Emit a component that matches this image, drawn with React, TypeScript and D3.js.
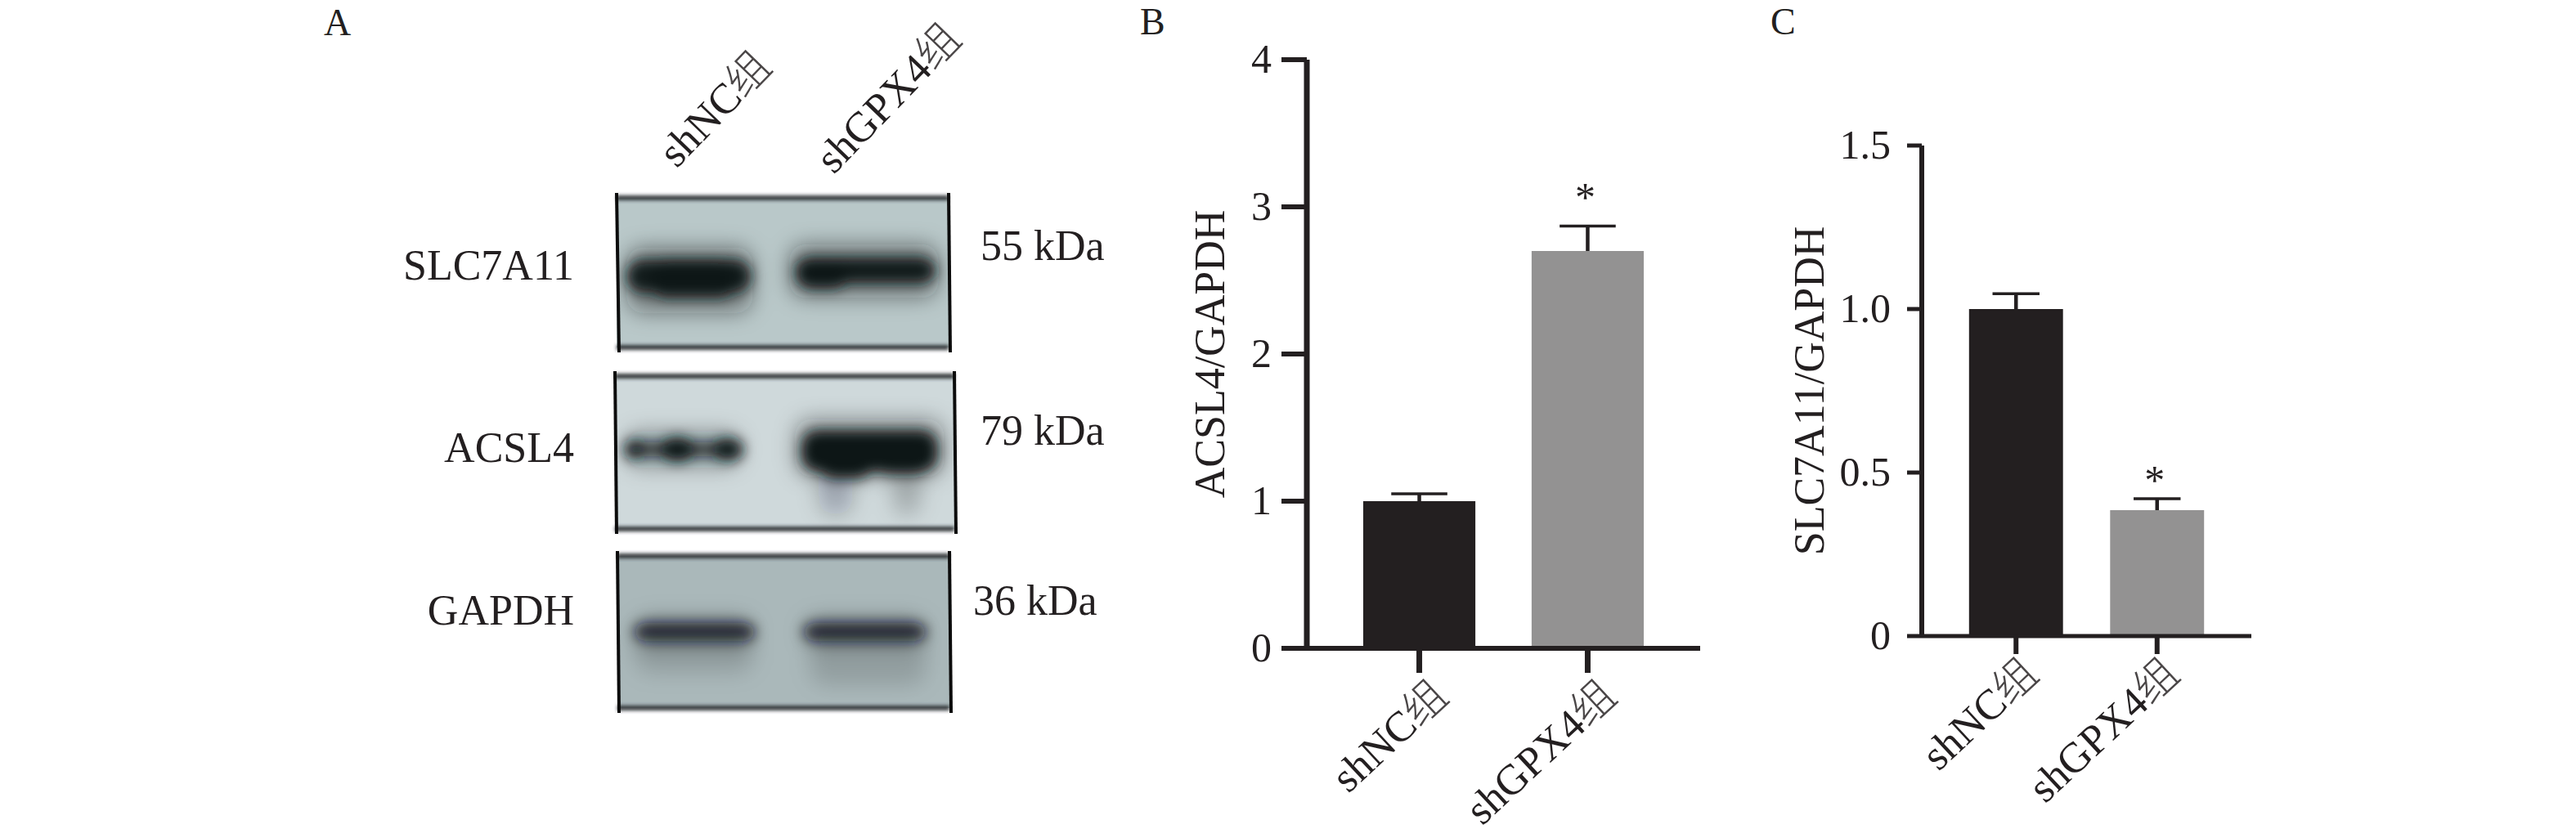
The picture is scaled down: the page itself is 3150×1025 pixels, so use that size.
import * as d3 from "d3";
import { useEffect, useRef } from "react";

const groups = ["shNC组", "shGPX4组"];

// panel B
const acslTicks = [0, 1, 2, 3, 4];
const acslMeans = [1.0, 2.7];
const acslErrors = [0.05, 0.17];
const acslStars = ["", "*"];

// panel C
const slcTicks = [0, 0.5, 1.0, 1.5];
const slcMeans = [1.0, 0.385];
const slcErrors = [0.047, 0.035];
const slcStars = ["", "*"];

// panel A, the bands are [from, to] across the gel, centre and thickness down the gel, density
const slcBands = [
  [0.03, 0.405, 0.525, 0.22, 0.95],
  [0.1, 0.36, 0.54, 0.26, 0.9],
  [0.54, 0.96, 0.485, 0.17, 0.97],
  [0.54, 0.7, 0.51, 0.2, 0.9],
];
const slcSmears = [
  [0.03, 0.41, 0.55, 0.44, 0.42],
  [0.52, 0.97, 0.49, 0.36, 0.42],
];
const acslBands = [
  [0.027, 0.087, 0.48, 0.13, 0.85],
  [0.133, 0.234, 0.48, 0.16, 0.98],
  [0.287, 0.378, 0.48, 0.15, 0.95],
  [0.03, 0.37, 0.48, 0.09, 0.7],
  [0.55, 0.95, 0.49, 0.27, 1],
  [0.6, 0.76, 0.57, 0.2, 1],
  [0.76, 0.93, 0.54, 0.2, 1],
];
const acslSmears = [
  [0.03, 0.37, 0.48, 0.24, 0.32],
  [0.53, 0.97, 0.47, 0.38, 0.35],
  [0.6, 0.7, 0.76, 0.3, 0.24],
  [0.82, 0.9, 0.76, 0.3, 0.22],
];
const gapdhBands = [
  [0.05, 0.415, 0.5, 0.12, 0.8],
  [0.56, 0.93, 0.5, 0.12, 0.8],
];
const gapdhSmears = [
  [0.05, 0.41, 0.63, 0.28, 0.14],
  [0.58, 0.93, 0.67, 0.36, 0.14],
  [0.05, 0.41, 0.5, 0.2, 0.25],
  [0.56, 0.93, 0.5, 0.2, 0.25],
];

const INK = "#231f20";
const SERIF = "'Liberation Serif', 'Noto Sans CJK SC', serif";

type Row = number[];

interface BlotConfig {
  name: string;
  kda: string;
  bg: string;
  left: number;
  right: number;
  top: number;
  bottom: number;
  nameY: number;
  kdaX: number;
  kdaY: number;
  bands: Row[];
  smears: Row[];
}

const blots: BlotConfig[] = [
  { name: "SLC7A11", kda: "55 kDa", bg: "#b9c8c9", left: 754, right: 1160, top: 242, bottom: 425, nameY: 342, kdaX: 1199, kdaY: 318, bands: slcBands, smears: slcSmears },
  { name: "ACSL4", kda: "79 kDa", bg: "#cfd9db", left: 752, right: 1167, top: 460, bottom: 647, nameY: 565, kdaX: 1199, kdaY: 544, bands: acslBands, smears: acslSmears },
  { name: "GAPDH", kda: "36 kDa", bg: "#aab8ba", left: 755, right: 1161, top: 680, bottom: 866, nameY: 764, kdaX: 1190, kdaY: 752, bands: gapdhBands, smears: gapdhSmears },
];

function drawBlot(root: any, cfg: BlotConfig, idx: number) {
  const x = d3.scaleLinear().domain([0, 1]).range([cfg.left, cfg.right]);
  const y = d3.scaleLinear().domain([0, 1]).range([cfg.top, cfg.bottom]);
  const g = root.append("g");

  root
    .select("defs")
    .append("clipPath")
    .attr("id", `gel${idx}`)
    .append("rect")
    .attr("x", cfg.left)
    .attr("y", cfg.top - 6)
    .attr("width", cfg.right - cfg.left)
    .attr("height", cfg.bottom - cfg.top + 12);

  g.append("rect")
    .attr("x", cfg.left)
    .attr("y", cfg.top)
    .attr("width", cfg.right - cfg.left)
    .attr("height", cfg.bottom - cfg.top)
    .attr("fill", cfg.bg);

  const inner = g.append("g").attr("clip-path", `url(#gel${idx})`);
  const drawRows = (rows: Row[], filter: string) => {
    inner
      .append("g")
      .attr("filter", filter)
      .selectAll("rect")
      .data(rows)
      .join("rect")
      .attr("x", (d: Row) => x(d[0]))
      .attr("width", (d: Row) => x(d[1]) - x(d[0]))
      .attr("y", (d: Row) => y(d[2] - d[3] / 2))
      .attr("height", (d: Row) => y(d[3]) - y(0))
      .attr("rx", 20)
      .attr("fill", "#101418")
      .attr("fill-opacity", (d: Row) => d[4]);
  };
  drawRows(cfg.smears, "url(#blurWide)");
  drawRows(cfg.bands, "url(#blurBand)");

  // top and bottom strips of the film edge
  g.append("g")
    .attr("filter", "url(#blurEdge)")
    .selectAll("line")
    .data([cfg.top, cfg.bottom])
    .join("line")
    .attr("x1", cfg.left)
    .attr("x2", cfg.right)
    .attr("y1", (d: number) => d)
    .attr("y2", (d: number) => d)
    .attr("stroke", "#33383b")
    .attr("stroke-width", 6);

  g.selectAll("line.side")
    .data([cfg.left, cfg.right])
    .join("line")
    .attr("class", "side")
    .attr("x1", (d: number) => d)
    .attr("x2", (d: number, i: number) => d + (i === 0 && idx === 0 ? 3 : 2))
    .attr("y1", cfg.top - 6)
    .attr("y2", cfg.bottom + 6)
    .attr("stroke", "#0c0c0c")
    .attr("stroke-width", 4);

  root
    .append("text")
    .attr("x", 702)
    .attr("y", cfg.nameY)
    .attr("text-anchor", "end")
    .attr("font-size", 52)
    .attr("fill", INK)
    .text(cfg.name);
  root
    .append("text")
    .attr("x", cfg.kdaX)
    .attr("y", cfg.kdaY)
    .attr("font-size", 52)
    .attr("fill", INK)
    .text(cfg.kda);
}

interface BarConfig {
  title: string;
  titleX: number;
  axisX: number;
  endX: number;
  topY: number;
  zeroY: number;
  maxValue: number;
  ticks: number[];
  tickFormat: (v: number) => string;
  tickSize: number;
  tickPadding: number;
  xTickSize: number;
  labelDx: number;
  labelDy: number;
  starGap: number;
  lineWidth: number;
  means: number[];
  errors: number[];
  stars: string[];
}

function labelText(sel: any, label: string) {
  // the 组 sits in the CJK font, everything else stays serif
  const latin = label.slice(0, -1);
  sel.text(null);
  sel.append("tspan").text(latin);
  sel
    .append("tspan")
    .attr("font-family", "'Noto Sans CJK SC'")
    .attr("font-weight", 300)
    .attr("fill", "#4a4647")
    .text(label.slice(-1));
}

function drawBars(root: any, cfg: BarConfig) {
  const x = d3
    .scaleBand<string>()
    .domain(groups)
    .range([cfg.axisX, cfg.endX])
    .paddingInner(0.334)
    .paddingOuter(0.335);
  const y = d3
    .scaleLinear()
    .domain([0, cfg.maxValue])
    .range([cfg.zeroY, cfg.topY]);

  const g = root.append("g");

  g.selectAll("rect.bar")
    .data(groups)
    .join("rect")
    .attr("class", "bar")
    .attr("x", (d: string) => x(d))
    .attr("width", x.bandwidth())
    .attr("y", (_: string, i: number) => y(cfg.means[i]))
    .attr("height", (_: string, i: number) => y(0) - y(cfg.means[i]))
    .attr("fill", (_: string, i: number) => (i === 0 ? INK : "#939292"));

  const center = (d: string) => (x(d) as number) + x.bandwidth() / 2;
  const err = g.selectAll("g.err").data(groups).join("g").attr("class", "err");
  err
    .append("line")
    .attr("x1", center)
    .attr("x2", center)
    .attr("y1", (_: string, i: number) => y(cfg.means[i]))
    .attr("y2", (_: string, i: number) => y(cfg.means[i] + cfg.errors[i]))
    .attr("stroke", INK)
    .attr("stroke-width", 4.5);
  err
    .append("line")
    .attr("x1", (d: string) => center(d) - x.bandwidth() / 4)
    .attr("x2", (d: string) => center(d) + x.bandwidth() / 4)
    .attr("y1", (_: string, i: number) => y(cfg.means[i] + cfg.errors[i]))
    .attr("y2", (_: string, i: number) => y(cfg.means[i] + cfg.errors[i]))
    .attr("stroke", INK)
    .attr("stroke-width", 3.5);

  g.selectAll("text.star")
    .data(groups)
    .join("text")
    .attr("class", "star")
    .attr("x", (d: string) => center(d) - 3)
    .attr("y", (_: string, i: number) => y(cfg.means[i] + cfg.errors[i]) - cfg.starGap)
    .attr("text-anchor", "middle")
    .attr("font-size", 50)
    .attr("fill", INK)
    .text((_: string, i: number) => cfg.stars[i]);

  const yAxis = g
    .append("g")
    .attr("transform", `translate(${cfg.axisX},0)`)
    .call(
      d3
        .axisLeft(y)
        .tickValues(cfg.ticks)
        .tickFormat(cfg.tickFormat as any)
        .tickSize(cfg.tickSize)
        .tickSizeOuter(0)
        .tickPadding(cfg.tickPadding)
        .offset(0)
    );
  yAxis.select(".domain").attr("stroke", INK).attr("stroke-width", cfg.lineWidth);
  yAxis.selectAll(".tick line").attr("stroke", INK).attr("stroke-width", cfg.lineWidth - 1);
  yAxis
    .selectAll(".tick text")
    .attr("font-family", SERIF)
    .attr("font-size", 50)
    .attr("fill", INK);

  const xAxis = g
    .append("g")
    .attr("transform", `translate(0,${cfg.zeroY})`)
    .call(
      d3
        .axisBottom(x)
        .tickSize(cfg.xTickSize)
        .tickSizeOuter(0)
        .offset(0)
    );
  xAxis.select(".domain").attr("stroke", INK).attr("stroke-width", cfg.lineWidth - 1);
  xAxis.selectAll(".tick line").attr("stroke", INK).attr("stroke-width", cfg.lineWidth);
  xAxis
    .selectAll(".tick text")
    .attr("font-family", SERIF)
    .attr("font-size", 52)
    .attr("fill", INK)
    .attr("x", 0)
    .attr("y", 0)
    .attr("dy", 0)
    .attr("text-anchor", "end")
    .attr("transform", `translate(${cfg.labelDx},${cfg.xTickSize + cfg.labelDy}) rotate(-43)`)
    .each(function (this: any, d: any) {
      labelText(d3.select(this), d);
    });

  g.append("text")
    .attr("transform", `translate(${cfg.titleX},${(y(0) + y(cfg.maxValue)) / 2}) rotate(-90)`)
    .attr("text-anchor", "middle")
    .attr("font-size", 52)
    .attr("fill", INK)
    .text(cfg.title);
}

export default function App() {
  const svgRef = useRef<SVGSVGElement | null>(null);

  useEffect(() => {
    const svg = d3.select(svgRef.current);
    svg.selectAll("*").remove();
    svg.attr("font-family", SERIF);
    const defs = svg.append("defs");
    [
      ["blurBand", 8],
      ["blurWide", 13],
      ["blurEdge", 2],
    ].forEach(([id, sd]) => {
      defs
        .append("filter")
        .attr("id", id as string)
        .attr("x", "-30%")
        .attr("y", "-100%")
        .attr("width", "160%")
        .attr("height", "300%")
        .append("feGaussianBlur")
        .attr("stdDeviation", sd as number);
    });

    // panel letters
    svg
      .selectAll("text.letter")
      .data([
        ["A", 396, 43],
        ["B", 1394, 42],
        ["C", 2165, 42],
      ])
      .join("text")
      .attr("class", "letter")
      .attr("x", (d: any) => d[1])
      .attr("y", (d: any) => d[2])
      .attr("font-size", 46)
      .attr("fill", INK)
      .text((d: any) => d[0]);

    blots.forEach((cfg, i) => drawBlot(svg, cfg, i));

    // lane headings over the blots
    svg
      .selectAll("text.lane")
      .data(groups)
      .join("text")
      .attr("class", "lane")
      .attr("text-anchor", "end")
      .attr("font-size", 52)
      .attr("fill", INK)
      .attr("transform", (_: string, i: number) =>
        i === 0 ? "translate(946,84) rotate(-46)" : "translate(1178,50) rotate(-46)"
      )
      .each(function (this: any, d: string) {
        labelText(d3.select(this), d);
      });

    drawBars(svg, {
      title: "ACSL4/GAPDH",
      titleX: 1497,
      axisX: 1598,
      endX: 2079,
      topY: 73,
      zeroY: 793,
      maxValue: 4,
      ticks: acslTicks,
      tickFormat: (v) => String(v),
      tickSize: 31,
      tickPadding: 12,
      xTickSize: 30,
      labelDx: 38,
      labelDy: 32,
      starGap: 18,
      lineWidth: 7,
      means: acslMeans,
      errors: acslErrors,
      stars: acslStars,
    });

    drawBars(svg, {
      title: "SLC7A11/GAPDH",
      titleX: 2230,
      axisX: 2350,
      endX: 2753,
      topY: 178,
      zeroY: 778,
      maxValue: 1.5,
      ticks: slcTicks,
      tickFormat: (v) => (v === 0 ? "0" : d3.format(".1f")(v)),
      tickSize: 18,
      tickPadding: 20,
      xTickSize: 22,
      labelDx: 30,
      labelDy: 28,
      starGap: 6,
      lineWidth: 6,
      means: slcMeans,
      errors: slcErrors,
      stars: slcStars,
    });
  }, []);

  return (
    <svg
      ref={svgRef}
      width={3150}
      height={1025}
      style={{ position: "absolute", left: 0, top: 0, background: "#fff" }}
    />
  );
}
